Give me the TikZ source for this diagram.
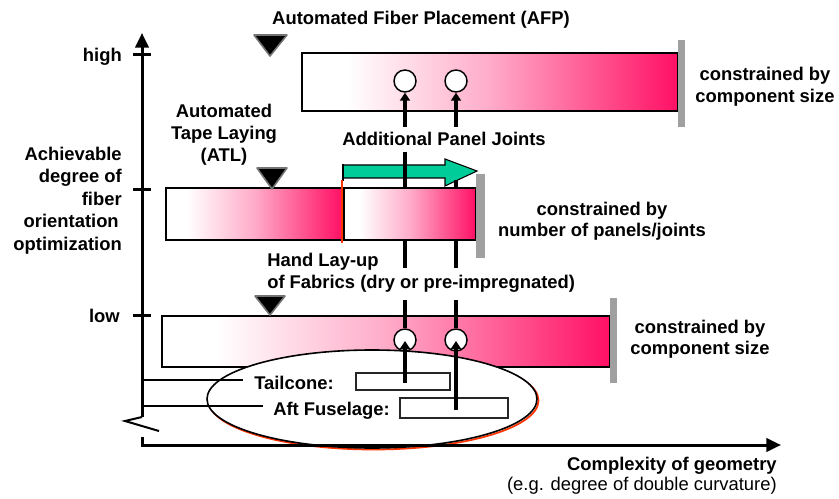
\documentclass[tikz,border=0pt]{standalone}
\usepackage{fontspec}
\setmainfont{Liberation Sans}
\usetikzlibrary{arrows.meta,shapes.misc}
\definecolor{barpink}{RGB}{255,16,100}
\definecolor{arrgreen}{RGB}{0,204,153}
\definecolor{grayb}{RGB}{160,160,160}
\definecolor{shadowred}{RGB}{255,51,0}
\pgfdeclarehorizontalshading{barshade}{100bp}{color(0bp)=(white); color(31bp)=(white); color(50bp)=(barpink!35!white); color(75bp)=(barpink); color(100bp)=(barpink)}
\tikzset{
  lbl/.style={inner sep=0pt, font=\fontsize{13.8}{16.9}\selectfont\bfseries},
  lblr/.style={inner sep=0pt, font=\fontsize{13.8}{16.9}\selectfont},
  axisline/.style={line width=2.25pt},
  conn/.style={line width=3pt},
  arr/.style={conn, -{Triangle[length=6pt,width=7.5pt]}},
  barbox/.style={draw=black, line width=0.9pt, shade, shading=barshade},
  graybar/.style={fill=grayb},
  marker/.style={fill=black, draw=black!55, line width=1.2pt, line join=round},
  joint/.style={circle, draw, fill=white, line width=1.1pt, minimum size=16.5pt, inner sep=0pt},
  compbox/.style={chamfered rectangle, chamfered rectangle xsep=2pt, chamfered rectangle ysep=2pt, draw=black!85, line width=1pt, inner sep=0pt},
  leader/.style={line width=0.9pt}
}
\begin{document}
\begin{tikzpicture}[x=0.75pt,y=-0.75pt]
\useasboundingbox (0,0) rectangle (839,499);

% green arrow (additional panel joints)
\draw[fill=arrgreen, line width=0.8pt, line join=miter] (343,165) -- (445,165) -- (445,159) -- (477,171) -- (445,186) -- (445,178) -- (343,178) -- cycle;
\draw[line width=1.6pt] (343,164) -- (343,181);

% connector segments behind the middle bar
\coordinate (m1a) at (405,152); \coordinate (m1b) at (405,268);
\coordinate (m2a) at (456,180); \coordinate (m2b) at (456,268);
\draw[conn] (m1a) -- (m1b);
\draw[conn] (m2a) -- (m2b);

% bars
\draw[barbox] (302,53) rectangle (678,111);
\draw[barbox] (166,188) rectangle (342,240);
\draw[barbox] (344,188) rectangle (476,240);
\draw[barbox] (162,316) rectangle (610,367);
\draw[shadowred, line width=0.9pt] (342,180) -- (342,243);

% gray limits
\fill[graybar] (678,40) rectangle (685,127);
\fill[graybar] (476,174) rectangle (485,258);
\fill[graybar] (610,298) rectangle (617,383);

% process markers
\draw[marker] (254,35) -- (287,35) -- (270,56) -- cycle;
\draw[marker] (257,168) -- (287,168) -- (272,189) -- cycle;
\draw[marker] (255,296) -- (285,296) -- (270,315) -- cycle;

% ellipse with red shadow
\draw[shadowred, line width=1.3pt] (373.5,400.5) ellipse [x radius=165, y radius=49];
\draw[line width=1.2pt, fill=white] (372,399) ellipse [x radius=165, y radius=49];

% joints
\node[joint] (c1) at (405,81) {};
\node[joint] (c2) at (456,81) {};
\node[joint] (c3) at (405,340) {};
\node[joint] (c4) at (456,340) {};

% component boxes
\node[compbox, minimum width=70.5pt, minimum height=12.75pt] (tailbox) at (403,381.5) {};
\node[compbox, minimum width=81pt, minimum height=15pt] (aftbox) at (454,408) {};

% connectors
\coordinate (t1) at (405,127); \coordinate (t2) at (456,127);
\draw[arr] (t1) -- (c1.south);
\draw[arr] (t2) -- (c2.south);
\coordinate (l1) at (405,300); \coordinate (l2) at (456,300);
\draw[conn] (l1) -- (c3.north);
\draw[conn] (l2) -- (c4.north);
\coordinate (b1) at (405,383); \coordinate (b2) at (456,410);
\coordinate (e1) at (405,341); \coordinate (e2) at (456,341);
\draw[arr] (b1) -- (e1);
\draw[arr] (b2) -- (e2);

% axes
\coordinate (ytop) at (142,33); \coordinate (ybrk) at (142,417);
\coordinate (z1) at (125,421); \coordinate (z2) at (159,431);
\coordinate (ybot) at (142,437); \coordinate (orig) at (142,445); \coordinate (xend) at (781,445);
\draw[axisline, -{Triangle[length=11pt,width=10pt]}] (ybrk) -- (ytop);
\draw[line width=1.5pt] (ybrk) -- (z1) -- (z2);
\draw[axisline, -{Triangle[length=11pt,width=10pt]}] (ybot) -- (orig) -- (xend);
\draw[axisline] (133,55) -- (151,55);
\draw[axisline] (133,190) -- (151,190);
\draw[axisline] (133,315) -- (151,315);

% leader lines
\coordinate (tl0) at (143,380); \coordinate (tl1) at (243,380);
\coordinate (al0) at (143,406); \coordinate (al1) at (263,406);
\draw[leader] (tl0) -- (tl1);
\draw[leader] (al0) -- (al1);

% texts
\node[lbl, anchor=base] (afp) at (421,25) {Automated Fiber Placement (AFP)};
\node[lbl, anchor=base east] (high) at (122,62) {high};
\node[lbl, anchor=base east] (low) at (120,322) {low};
\node[lbl, anchor=base east] (ya) at (122,161) {Achievable};
\node[lbl, anchor=base east] (yb) at (122,183) {degree of};
\node[lbl, anchor=base east] (yc) at (122,206) {fiber};
\node[lbl, anchor=base east] (yd) at (119,228) {orientation};
\node[lbl, anchor=base east] (ye) at (122,250) {optimization};
\node[lbl, anchor=base] (atla) at (224,118) {Automated};
\node[lbl, anchor=base] (atlb) at (224,140) {Tape Laying};
\node[lbl, anchor=base] (atlc) at (224,162) {(ATL)};
\node[lbl, anchor=base west] (apj) at (342,146) {Additional Panel Joints};
\node[lbl, anchor=base] (cta) at (765,81) {constrained by};
\node[lbl, anchor=base] (ctb) at (765,103) {component size};
\node[lbl, anchor=base] (cma) at (602,215) {constrained by};
\node[lbl, anchor=base] (cmb) at (602,236) {number of panels/joints};
\node[lbl, anchor=base] (cla) at (700,333) {constrained by};
\node[lbl, anchor=base] (clb) at (700,354) {component size};
\node[lbl, anchor=base west] (hla) at (267,266) {Hand Lay-up};
\node[lbl, anchor=base west] (hlb) at (267,288) {of Fabrics (dry or pre-impregnated)};
\node[lbl, anchor=base west] (tail) at (254,389) {Tailcone:};
\node[lbl, anchor=base west] (aft) at (273,415) {Aft Fuselage:};
\node[lbl, anchor=base east] (xa) at (777,470) {Complexity of geometry};
\node[lblr, anchor=base east] (xb) at (777,490) {(e.g. degree of double curvature)};
\end{tikzpicture}
\end{document}
